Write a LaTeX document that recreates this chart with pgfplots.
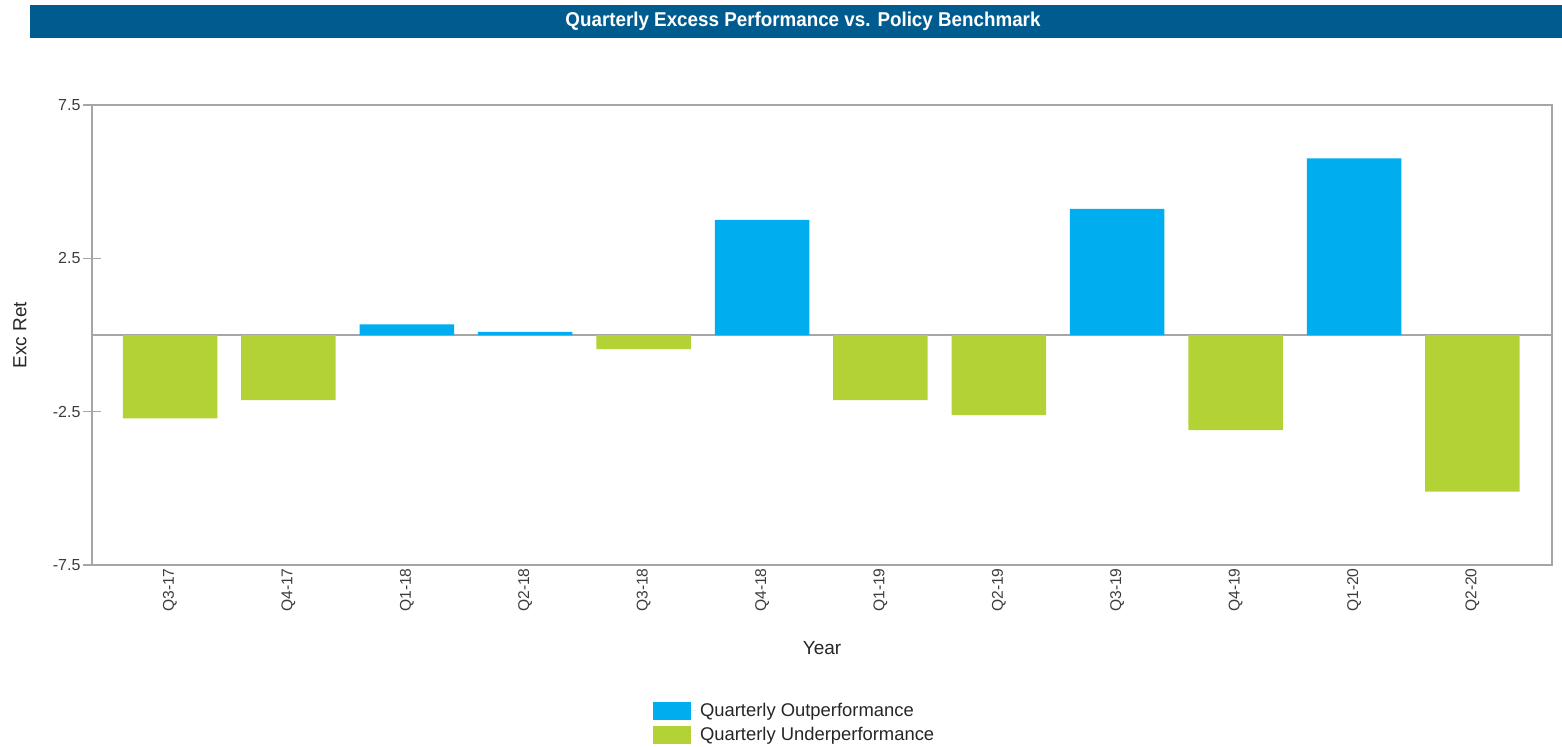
\documentclass[border=0pt]{standalone}
\usepackage{fontspec}
\setmainfont{Liberation Sans}
\usepackage{graphicx}
\usepackage{pgfplots}
\pgfplotsset{compat=1.18}
\definecolor{outblue}{RGB}{0,174,239}
\definecolor{undgreen}{RGB}{178,210,53}
\definecolor{titlebar}{RGB}{0,92,143}
\definecolor{axgray}{RGB}{166,166,166}
\definecolor{lblgray}{RGB}{60,60,60}
\begin{document}
\begin{tikzpicture}[x=1pt,y=1pt]
\useasboundingbox (0,0) rectangle (781,373);
\fill[titlebar] (15,354) rectangle (781,370.5);
\node[text=white, font=\fontsize{10}{12}\selectfont\bfseries, inner sep=0pt] at (401.5,362.2) {\scalebox{0.94}[1]{Quarterly Excess Performance vs. Policy Benchmark}};
\begin{axis}[
  at={(46pt,90.5pt)}, anchor=south west,
  scale only axis, width=730pt, height=230pt,
  xmin=-0.659, xmax=11.672, ymin=-7.5, ymax=7.5,
  ytick={-7.5,-2.5,2.5,7.5},
  yticklabels={-7.5,-2.5,2.5,7.5},
  xtick={0,1,2,3,4,5,6,7,8,9,10,11},
  xticklabels={Q3-17,Q4-17,Q1-18,Q2-18,Q3-18,Q4-18,Q1-19,Q2-19,Q3-19,Q4-19,Q1-20,Q2-20},
  x tick label style={rotate=90, anchor=east, font=\fontsize{7.8}{9}\selectfont, text=lblgray, inner sep=1.5pt},
  y tick label style={font=\fontsize{8}{9}\selectfont, text=lblgray, xshift=2pt},
  axis line style={axgray, line width=0.75pt},
  xtick style={draw=none},
  ytick style={axgray, line width=0.75pt},
  ytick pos=left, xtick pos=bottom,
  ytick align=center, major tick length=8.5pt,
  extra y ticks={0}, extra y tick labels={},
  extra y tick style={ymajorgrids=true, major grid style={axgray, line width=0.75pt}, major tick length=0pt},
  ylabel={Exc Ret}, xlabel={Year},
  ylabel style={at={(axis description cs:-0.0493,0.5)}, anchor=center, font=\fontsize{9.5}{11}\selectfont, text=black!85},
  xlabel style={at={(axis description cs:0.5,-0.180)}, anchor=center, font=\fontsize{9.5}{11}\selectfont, text=black!85},
  legend style={at={(axis description cs:0.384,-0.290)}, anchor=north west, draw=none, fill=none, inner sep=0pt, row sep=0pt, font=\fontsize{9.2}{11}\selectfont, text=black!85, cells={anchor=west}},
]
\addplot[ybar, bar width=47.25pt, bar shift=0pt, fill=outblue, draw=none,
  legend image code/.code={\fill[outblue] (0pt,-4.5pt) rectangle (19pt,4.5pt); \path (0pt,0pt) -- (21.5pt,0pt);}]
  coordinates {(2,0.35) (3,0.10) (5,3.75) (8,4.11) (10,5.76)};
\addlegendentry{Quarterly Outperformance}
\addplot[ybar, bar width=47.25pt, bar shift=0pt, fill=undgreen, draw=none,
  legend image code/.code={\fill[undgreen] (0pt,-4.5pt) rectangle (19pt,4.5pt); \path (0pt,0pt) -- (21.5pt,0pt);}]
  coordinates {(0,-2.72) (1,-2.12) (4,-0.46) (6,-2.12) (7,-2.61) (9,-3.10) (11,-5.11)};
\addlegendentry{Quarterly Underperformance}
\end{axis}
\end{tikzpicture}
\end{document}
